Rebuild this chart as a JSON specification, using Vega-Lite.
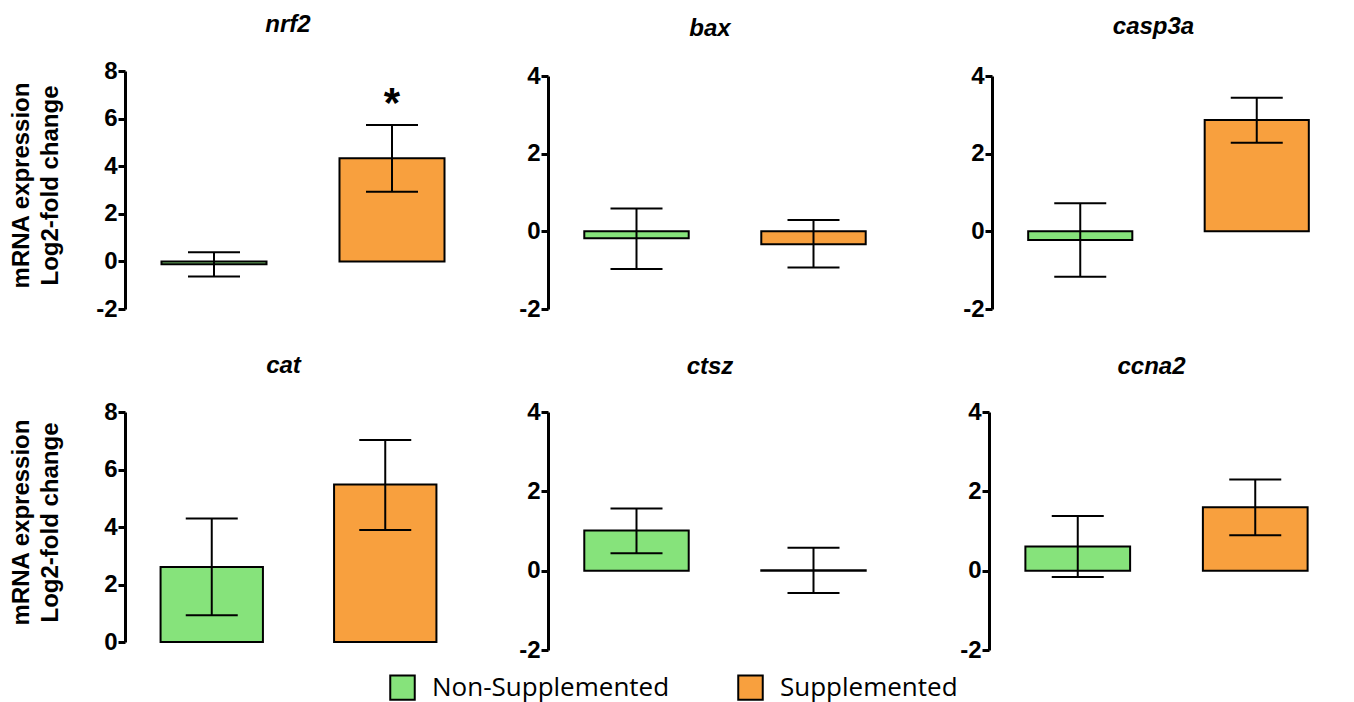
{
  "$schema": "https://vega.github.io/schema/vega-lite/v6.json",
  "background": "white",
  "padding": {"left": 8, "top": 13, "right": 5, "bottom": 2},
  "datasets": {
    "expr": [
      {"gene": "nrf2", "group": "Non-Supplemented", "mean": -0.12, "lo": -0.63, "hi": 0.38, "sig": ""},
      {"gene": "nrf2", "group": "Supplemented", "mean": 4.33, "lo": 2.93, "hi": 5.73, "sig": "*"},
      {"gene": "bax", "group": "Non-Supplemented", "mean": -0.18, "lo": -0.97, "hi": 0.59, "sig": ""},
      {"gene": "bax", "group": "Supplemented", "mean": -0.33, "lo": -0.93, "hi": 0.29, "sig": ""},
      {"gene": "casp3a", "group": "Non-Supplemented", "mean": -0.22, "lo": -1.17, "hi": 0.72, "sig": ""},
      {"gene": "casp3a", "group": "Supplemented", "mean": 2.87, "lo": 2.28, "hi": 3.44, "sig": ""},
      {"gene": "cat", "group": "Non-Supplemented", "mean": 2.61, "lo": 0.93, "hi": 4.3, "sig": ""},
      {"gene": "cat", "group": "Supplemented", "mean": 5.48, "lo": 3.9, "hi": 7.03, "sig": ""},
      {"gene": "ctsz", "group": "Non-Supplemented", "mean": 1.01, "lo": 0.44, "hi": 1.57, "sig": ""},
      {"gene": "ctsz", "group": "Supplemented", "mean": 0.01, "lo": -0.56, "hi": 0.58, "sig": ""},
      {"gene": "ccna2", "group": "Non-Supplemented", "mean": 0.61, "lo": -0.16, "hi": 1.38, "sig": ""},
      {"gene": "ccna2", "group": "Supplemented", "mean": 1.6, "lo": 0.89, "hi": 2.3, "sig": ""}
    ]
  },
  "data": {"name": "expr"},
  "config": {
    "view": {"stroke": null},
    "axis": {
      "domainWidth": 3, "domainColor": "black", "tickWidth": 3, "tickSize": 7, "tickColor": "black",
      "labelFont": "Liberation Sans", "labelFontWeight": "bold", "labelFontSize": 24, "labelColor": "black",
      "labelPadding": 1, "grid": false, "labelFlush": false, "labelOverlap": false,
      "labelExpr": "datum.value + ''",
      "titleFont": "Liberation Sans", "titleFontSize": 24, "titleFontWeight": "bold", "titleColor": "black"
    },
    "title": {"font": "Liberation Sans", "fontSize": 24, "fontWeight": "bold", "fontStyle": "italic", "color": "black", "anchor": "middle", "frame": "group", "baseline": "alphabetic", "dx": -15},
    "legend": {
      "orient": "none", "legendX": 264, "legendY": 603, "direction": "horizontal", "padding": 0,
      "symbolType": "square", "symbolSize": 600, "symbolStrokeColor": "black", "symbolStrokeWidth": 2, "symbolOpacity": 1,
      "labelFont": "Open Sans", "labelFontSize": 26, "labelColor": "black", "labelOffset": 16, "columnPadding": 64,
      "title": null, "labelLimit": 400
    }
  },
  "resolve": {"scale": {"x": "independent", "y": "independent"}},
  "spacing": 33,
  "vconcat": [
    {
      "spacing": 37,
      "resolve": {"scale": {"x": "independent", "y": "independent"}},
      "hconcat": [
        {
          "title": {"text": "nrf2", "offset": 22},
          "width": 356, "height": 238,
          "transform": [{"filter": "datum.gene === 'nrf2'"}],
          "encoding": {"x": {"field": "group", "type": "nominal", "sort": ["Non-Supplemented", "Supplemented"], "axis": null, "scale": {"paddingInner": 0, "paddingOuter": 0}}},
          "layer": [
            {"mark": {"type": "bar", "width": {"band": 0.59}, "stroke": "black", "strokeWidth": 2},
             "encoding": {
               "y": {"field": "mean", "type": "quantitative", "scale": {"domain": [-2, 8], "nice": false, "zero": false},
                     "axis": {"values": [-2, 0, 2, 4, 6, 8], "title": ["mRNA expression", "Log2-fold change"], "titleAngle": -90, "titleX": -97, "titleY": 114, "titleAlign": "center", "titleBaseline": "alphabetic", "titleLineHeight": 29}},
               "color": {"field": "group", "type": "nominal", "scale": {"domain": ["Non-Supplemented", "Supplemented"], "range": ["#86E37B", "#F8A03E"]}}
             }},
            {"mark": {"type": "rule", "strokeWidth": 3, "color": "black"}, "encoding": {"y": {"datum": 0}}},
            {"mark": {"type": "rule", "strokeWidth": 2, "color": "black"}, "encoding": {"y": {"field": "lo", "type": "quantitative"}, "y2": {"field": "hi"}}},
            {"mark": {"type": "tick", "thickness": 2, "color": "black", "opacity": 1}, "encoding": {"y": {"field": "lo", "type": "quantitative"}, "size": {"value": 52}}},
            {"mark": {"type": "tick", "thickness": 2, "color": "black", "opacity": 1}, "encoding": {"y": {"field": "hi", "type": "quantitative"}, "size": {"value": 52}}},
            {"transform": [{"filter": "datum.sig !== ''"}],
             "mark": {"type": "text", "font": "Liberation Sans", "fontWeight": "bold", "fontSize": 42, "baseline": "alphabetic", "dy": -8, "color": "black"},
             "encoding": {"y": {"field": "hi", "type": "quantitative"}, "text": {"field": "sig"}}}
          ]
        },
        {
          "title": {"text": "bax", "offset": 23},
          "width": 354, "height": 238,
          "transform": [{"filter": "datum.gene === 'bax'"}],
          "encoding": {"x": {"field": "group", "type": "nominal", "sort": ["Non-Supplemented", "Supplemented"], "axis": null, "scale": {"paddingInner": 0, "paddingOuter": 0}}},
          "layer": [
            {"mark": {"type": "bar", "width": {"band": 0.59}, "stroke": "black", "strokeWidth": 2},
             "encoding": {
               "y": {"field": "mean", "type": "quantitative", "scale": {"domain": [-2, 4], "nice": false, "zero": false, "range": [238, 5]},
                     "axis": {"values": [-2, 0, 2, 4], "title": null, "minExtent": 29}},
               "color": {"field": "group", "type": "nominal", "scale": {"domain": ["Non-Supplemented", "Supplemented"], "range": ["#86E37B", "#F8A03E"]}}
             }},
            {"mark": {"type": "rule", "strokeWidth": 3, "color": "black"}, "encoding": {"y": {"datum": 0}}},
            {"mark": {"type": "rule", "strokeWidth": 2, "color": "black"}, "encoding": {"y": {"field": "lo", "type": "quantitative"}, "y2": {"field": "hi"}}},
            {"mark": {"type": "tick", "thickness": 2, "color": "black", "opacity": 1}, "encoding": {"y": {"field": "lo", "type": "quantitative"}, "size": {"value": 52}}},
            {"mark": {"type": "tick", "thickness": 2, "color": "black", "opacity": 1}, "encoding": {"y": {"field": "hi", "type": "quantitative"}, "size": {"value": 52}}}
          ]
        },
        {
          "title": {"text": "casp3a", "offset": 25},
          "width": 353, "height": 238,
          "transform": [{"filter": "datum.gene === 'casp3a'"}],
          "encoding": {"x": {"field": "group", "type": "nominal", "sort": ["Non-Supplemented", "Supplemented"], "axis": null, "scale": {"paddingInner": 0, "paddingOuter": 0}}},
          "layer": [
            {"mark": {"type": "bar", "width": {"band": 0.59}, "stroke": "black", "strokeWidth": 2},
             "encoding": {
               "y": {"field": "mean", "type": "quantitative", "scale": {"domain": [-2, 4], "nice": false, "zero": false, "range": [238, 5]},
                     "axis": {"values": [-2, 0, 2, 4], "title": null, "minExtent": 53}},
               "color": {"field": "group", "type": "nominal", "scale": {"domain": ["Non-Supplemented", "Supplemented"], "range": ["#86E37B", "#F8A03E"]}}
             }},
            {"mark": {"type": "rule", "strokeWidth": 3, "color": "black"}, "encoding": {"y": {"datum": 0}}},
            {"mark": {"type": "rule", "strokeWidth": 2, "color": "black"}, "encoding": {"y": {"field": "lo", "type": "quantitative"}, "y2": {"field": "hi"}}},
            {"mark": {"type": "tick", "thickness": 2, "color": "black", "opacity": 1}, "encoding": {"y": {"field": "lo", "type": "quantitative"}, "size": {"value": 52}}},
            {"mark": {"type": "tick", "thickness": 2, "color": "black", "opacity": 1}, "encoding": {"y": {"field": "hi", "type": "quantitative"}, "size": {"value": 52}}}
          ]
        }
      ]
    },
    {
      "spacing": 37,
      "resolve": {"scale": {"x": "independent", "y": "independent"}},
      "hconcat": [
        {
          "title": {"text": "cat", "offset": 22},
          "width": 347, "height": 238,
          "transform": [{"filter": "datum.gene === 'cat'"}],
          "encoding": {"x": {"field": "group", "type": "nominal", "sort": ["Non-Supplemented", "Supplemented"], "axis": null, "scale": {"paddingInner": 0, "paddingOuter": 0}}},
          "layer": [
            {"mark": {"type": "bar", "width": {"band": 0.59}, "stroke": "black", "strokeWidth": 2},
             "encoding": {
               "y": {"field": "mean", "type": "quantitative", "scale": {"domain": [0, 8], "nice": false, "zero": false, "range": [230, 0]},
                     "axis": {"values": [0, 2, 4, 6, 8], "title": ["mRNA expression", "Log2-fold change"], "titleAngle": -90, "titleX": -97, "titleY": 110, "titleAlign": "center", "titleBaseline": "alphabetic", "titleLineHeight": 29}},
               "color": {"field": "group", "type": "nominal", "scale": {"domain": ["Non-Supplemented", "Supplemented"], "range": ["#86E37B", "#F8A03E"]}}
             }},
            {"mark": {"type": "rule", "strokeWidth": 3, "color": "black"}, "encoding": {"y": {"datum": 0}}},
            {"mark": {"type": "rule", "strokeWidth": 2, "color": "black"}, "encoding": {"y": {"field": "lo", "type": "quantitative"}, "y2": {"field": "hi"}}},
            {"mark": {"type": "tick", "thickness": 2, "color": "black", "opacity": 1}, "encoding": {"y": {"field": "lo", "type": "quantitative"}, "size": {"value": 52}}},
            {"mark": {"type": "tick", "thickness": 2, "color": "black", "opacity": 1}, "encoding": {"y": {"field": "hi", "type": "quantitative"}, "size": {"value": 52}}}
          ]
        },
        {
          "title": {"text": "ctsz", "offset": 21},
          "width": 354, "height": 238,
          "transform": [{"filter": "datum.gene === 'ctsz'"}],
          "encoding": {"x": {"field": "group", "type": "nominal", "sort": ["Non-Supplemented", "Supplemented"], "axis": null, "scale": {"paddingInner": 0, "paddingOuter": 0}}},
          "layer": [
            {"mark": {"type": "bar", "width": {"band": 0.59}, "stroke": "black", "strokeWidth": 2},
             "encoding": {
               "y": {"field": "mean", "type": "quantitative", "scale": {"domain": [-2, 4], "nice": false, "zero": false},
                     "axis": {"values": [-2, 0, 2, 4], "title": null, "minExtent": 39}},
               "color": {"field": "group", "type": "nominal", "scale": {"domain": ["Non-Supplemented", "Supplemented"], "range": ["#86E37B", "#F8A03E"]}}
             }},
            {"mark": {"type": "rule", "strokeWidth": 3, "color": "black"}, "encoding": {"y": {"datum": 0}}},
            {"mark": {"type": "rule", "strokeWidth": 2, "color": "black"}, "encoding": {"y": {"field": "lo", "type": "quantitative"}, "y2": {"field": "hi"}}},
            {"mark": {"type": "tick", "thickness": 2, "color": "black", "opacity": 1}, "encoding": {"y": {"field": "lo", "type": "quantitative"}, "size": {"value": 52}}},
            {"mark": {"type": "tick", "thickness": 2, "color": "black", "opacity": 1}, "encoding": {"y": {"field": "hi", "type": "quantitative"}, "size": {"value": 52}}}
          ]
        },
        {
          "title": {"text": "ccna2", "offset": 21},
          "width": 355, "height": 238,
          "transform": [{"filter": "datum.gene === 'ccna2'"}],
          "encoding": {"x": {"field": "group", "type": "nominal", "sort": ["Non-Supplemented", "Supplemented"], "axis": null, "scale": {"paddingInner": 0, "paddingOuter": 0}}},
          "layer": [
            {"mark": {"type": "bar", "width": {"band": 0.59}, "stroke": "black", "strokeWidth": 2},
             "encoding": {
               "y": {"field": "mean", "type": "quantitative", "scale": {"domain": [-2, 4], "nice": false, "zero": false},
                     "axis": {"values": [-2, 0, 2, 4], "title": null, "minExtent": 50}},
               "color": {"field": "group", "type": "nominal", "scale": {"domain": ["Non-Supplemented", "Supplemented"], "range": ["#86E37B", "#F8A03E"]}}
             }},
            {"mark": {"type": "rule", "strokeWidth": 3, "color": "black"}, "encoding": {"y": {"datum": 0}}},
            {"mark": {"type": "rule", "strokeWidth": 2, "color": "black"}, "encoding": {"y": {"field": "lo", "type": "quantitative"}, "y2": {"field": "hi"}}},
            {"mark": {"type": "tick", "thickness": 2, "color": "black", "opacity": 1}, "encoding": {"y": {"field": "lo", "type": "quantitative"}, "size": {"value": 52}}},
            {"mark": {"type": "tick", "thickness": 2, "color": "black", "opacity": 1}, "encoding": {"y": {"field": "hi", "type": "quantitative"}, "size": {"value": 52}}}
          ]
        }
      ]
    }
  ]
}
